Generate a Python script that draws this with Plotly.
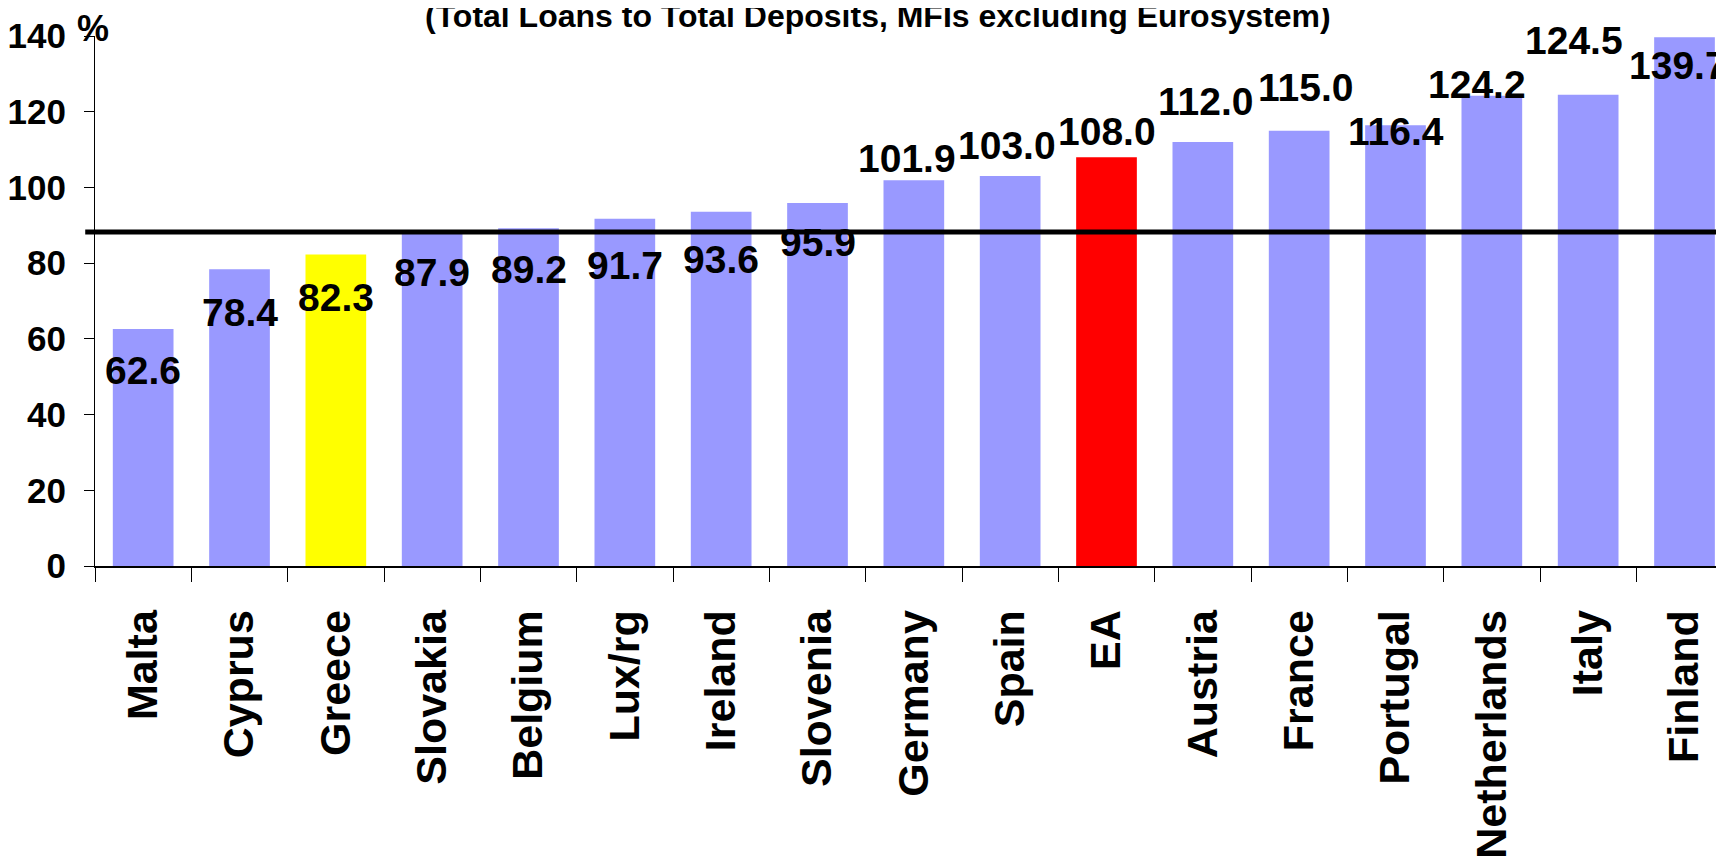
import plotly.graph_objects as go

# ---- data ----
countries = ["Malta", "Cyprus", "Greece", "Slovakia", "Belgium", "Lux/rg", "Ireland",
             "Slovenia", "Germany", "Spain", "EA", "Austria", "France", "Portugal",
             "Netherlands", "Italy", "Finland"]
ratios = [62.6, 78.4, 82.3, 87.9, 89.2, 91.7, 93.6, 95.9, 101.9, 103.0, 108.0,
          112.0, 115.0, 116.4, 124.2, 124.5, 139.7]
reference_level = 88.2
y_ticks = [0, 20, 40, 60, 80, 100, 120, 140]
title_text = "(Total Loans to Total Deposits, MFIs excluding Eurosystem)"

# ---- styles ----
highlight_colors = {"Greece": "#FFFF00", "EA": "#FF0000"}
base_color = "#9999FF"
bar_colors = [highlight_colors.get(c, base_color) for c in countries]
label_yshift = [-41, -43, -43, -39, -41, -47, -48, -40, 22, 31, 26, 41, 43, -6, 11, 54, -28]
label_xshift = [0, 0, 0, 0, 0, 0, 0, 0, -7, -3, 0, 3, 6, 0, -15, -14, -7]

FONT = "Liberation Sans, Arial, sans-serif"

# page body has an 8px margin: compensate so the plot area sits where intended
fig = go.Figure()
fig.add_trace(go.Bar(
    x=countries, y=ratios, marker=dict(color=bar_colors, line=dict(width=0)),
    width=0.63, showlegend=False, hoverinfo="x+y",
))

for c, v, dy, dx in zip(countries, ratios, label_yshift, label_xshift):
    fig.add_annotation(x=c, y=v, text=f"{v:.1f}", showarrow=False,
                       xref="x", yref="y", yanchor="middle", xanchor="center",
                       yshift=dy, xshift=dx,
                       font=dict(family=FONT, size=39, color="black", weight="bold"))

fig.add_shape(type="line", xref="paper", yref="y", x0=-0.006, x1=1.0,
              y0=reference_level, y1=reference_level,
              line=dict(color="black", width=5))

fig.add_annotation(text=title_text, xref="paper", yref="paper", x=(876 - 92) / 1632,
                   y=(566 - 16) / 530, xanchor="center", yanchor="middle", showarrow=False,
                   font=dict(family=FONT, size=32, color="black", weight="bold"))
fig.add_annotation(text="%", xref="paper", yref="paper", x=(90 - 92) / 1632,
                   y=(566 - 28) / 530, xanchor="center", yanchor="middle", showarrow=False,
                   font=dict(family=FONT, size=36, color="black", weight="bold"))

fig.update_layout(
    width=1716, height=853,
    margin=dict(l=84, r=0, t=28, b=295),
    plot_bgcolor="white", paper_bgcolor="white",
    bargap=0.37,
)
fig.update_xaxes(
    type="category", range=[-0.5, 16.41],
    showline=True, linecolor="black", linewidth=2,
    ticks="outside", tickson="boundaries", ticklen=14, tickcolor="black", tickwidth=1,
    tickangle=-90, ticklabelstandoff=25,
    tickfont=dict(family=FONT, size=43, color="black", weight="bold"),
    showgrid=False, zeroline=False,
)
fig.update_yaxes(
    range=[0, 140], tickvals=y_ticks,
    showline=True, linecolor="black", linewidth=1,
    ticks="outside", ticklen=10, tickcolor="black", tickwidth=1,
    ticklabelstandoff=11,
    tickfont=dict(family=FONT, size=35, color="black", weight="bold"),
    showgrid=False, zeroline=False,
)

fig.write_html("out.html")
